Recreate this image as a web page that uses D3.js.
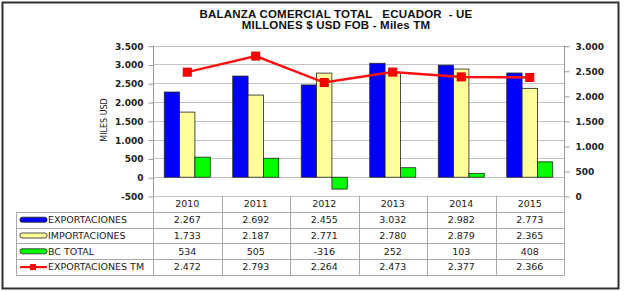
<!DOCTYPE html>
<html>
<head>
<meta charset="utf-8">
<script src="https://cdn.jsdelivr.net/npm/d3@7"></script>
<style>
  body { margin: 0; background: #fff; }
  svg { display: block; }
</style>
</head>
<body>
<div id="chart"></div>
<script>
// Data
var years = ["2010", "2011", "2012", "2013", "2014", "2015"];
var exportaciones = [2267, 2692, 2455, 3032, 2982, 2773];
var importaciones = [1733, 2187, 2771, 2780, 2879, 2365];
var bcTotal = [534, 505, -316, 252, 103, 408];
var exportacionesTM = [2472, 2793, 2264, 2473, 2377, 2366];
var leftTicks = [-500, 0, 500, 1000, 1500, 2000, 2500, 3000, 3500];
var rightTicks = [0, 500, 1000, 1500, 2000, 2500, 3000];

var barSeries = [
  { label: "EXPORTACIONES", values: exportaciones, color: "#0000ff" },
  { label: "IMPORTACIONES", values: importaciones, color: "#ffff99" },
  { label: "BC TOTAL", values: bcTotal, color: "#00ff00" }
];

var locale = d3.formatLocale({ decimal: ",", thousands: ".", grouping: [3], currency: ["$", ""], minus: "-" });
var fmt = locale.format(",d");

var W = 624, H = 291;
var svg = d3.select("#chart").append("svg").attr("width", W).attr("height", H);

// Chart frame
svg.append("rect")
  .attr("x", 2.5).attr("y", 2.5)
  .attr("width", 616).attr("height", 286)
  .attr("fill", "#fff")
  .attr("stroke", "#303030")
  .attr("stroke-width", 2);

// Title
var title = svg.append("text")
  .attr("text-anchor", "middle")
  .attr("font-family", "Liberation Sans, Arial, sans-serif")
  .attr("font-weight", "bold")
  .attr("font-size", "11.5px")
  .attr("letter-spacing", "0.2px")
  .attr("fill", "#111")
  .style("white-space", "pre");
title.append("tspan").attr("x", 336).attr("y", 18).text("BALANZA COMERCIAL TOTAL   ECUADOR  - UE");
title.append("tspan").attr("x", 336).attr("y", 29).text("MILLONES $ USD FOB - Miles TM");

// Plot area
var plotLeft = 153, plotRight = 564, plotTop = 45.7, plotBottom = 196;
var rowH = 15.8;
var tableLeft = 16;

var x = d3.scaleBand().domain(years).range([plotLeft, plotRight]).paddingInner(0).paddingOuter(0);
var x1 = d3.scaleBand().domain(barSeries.map(function (d) { return d.label; }))
  .range([0, x.bandwidth()]).paddingInner(0).paddingOuter(0.735);
var yL = d3.scaleLinear().domain([-500, 3500]).range([plotBottom, plotTop]);
var yR = d3.scaleLinear().domain([0, 3000]).range([plotBottom, plotTop]);

// Gridlines
svg.append("g")
  .selectAll("line")
  .data(leftTicks)
  .enter()
  .append("line")
  .attr("x1", plotLeft).attr("x2", plotRight)
  .attr("y1", function (d) { return Math.round(yL(d)) + 0.5; })
  .attr("y2", function (d) { return Math.round(yL(d)) + 0.5; })
  .attr("stroke", "#c4c4c4")
  .attr("stroke-width", 1);

// Left axis
var axisL = svg.append("g")
  .attr("transform", "translate(" + (plotLeft + 0.5) + ",0.5)")
  .call(d3.axisLeft(yL).tickValues(leftTicks).tickFormat(fmt).tickSize(5).tickPadding(5));
axisL.select(".domain").remove();
axisL.selectAll("line").attr("stroke", "#999");
axisL.selectAll("text")
  .attr("font-family", "DejaVu Sans, sans-serif")
  .attr("font-weight", "bold")
  .attr("font-size", "9px")
  .attr("fill", "#222");

// Right axis
var axisR = svg.append("g")
  .attr("transform", "translate(" + (plotRight + 0.5) + ",0.5)")
  .call(d3.axisRight(yR).tickValues(rightTicks).tickFormat(fmt).tickSize(5).tickPadding(6));
axisR.select(".domain").remove();
axisR.selectAll("line").attr("stroke", "#999");
axisR.selectAll("text")
  .attr("font-family", "DejaVu Sans, sans-serif")
  .attr("font-weight", "bold")
  .attr("font-size", "9px")
  .attr("fill", "#222");

// Y axis title
svg.append("text")
  .attr("transform", "translate(107,120) rotate(-90)")
  .attr("text-anchor", "middle")
  .attr("font-family", "DejaVu Sans, sans-serif")
  .attr("font-size", "8px")
  .attr("fill", "#222")
  .text("MILES USD");

// Bars
barSeries.forEach(function (s) {
  svg.append("g")
    .selectAll("rect")
    .data(s.values)
    .enter()
    .append("rect")
    .attr("x", function (d, i) { return x(years[i]) + x1(s.label); })
    .attr("width", x1.bandwidth())
    .attr("y", function (d) { return yL(Math.max(0, d)); })
    .attr("height", function (d) { return Math.abs(yL(d) - yL(0)); })
    .attr("fill", s.color)
    .attr("stroke", "#222")
    .attr("stroke-width", 0.8);
});

// Red line on the right axis
var line = d3.line()
  .x(function (d, i) { return x(years[i]) + x.bandwidth() / 2; })
  .y(function (d) { return yR(d); });

svg.append("path")
  .datum(exportacionesTM)
  .attr("d", line)
  .attr("fill", "none")
  .attr("stroke", "#ff1010")
  .attr("stroke-width", 2.5);

svg.append("g")
  .selectAll("rect")
  .data(exportacionesTM)
  .enter()
  .append("rect")
  .attr("x", function (d, i) { return x(years[i]) + x.bandwidth() / 2 - 4; })
  .attr("y", function (d) { return yR(d) - 4; })
  .attr("width", 8)
  .attr("height", 8)
  .attr("fill", "#ff0000")
  .attr("stroke", "#e00000")
  .attr("stroke-width", 1);

// Data table
var tableRows = barSeries.concat([{ label: "EXPORTACIONES TM", values: exportacionesTM, color: "#ff0000", isLine: true }]);
var tableTop = plotBottom + rowH;
var tableBottom = tableTop + rowH * tableRows.length;
var tbl = svg.append("g");

// horizontal lines
tbl.selectAll(".hline")
  .data(d3.range(tableRows.length + 1))
  .enter()
  .append("line")
  .attr("x1", tableLeft).attr("x2", plotRight)
  .attr("y1", function (i) { return Math.round(tableTop + i * rowH) + 0.5; })
  .attr("y2", function (i) { return Math.round(tableTop + i * rowH) + 0.5; })
  .attr("stroke", "#a8a8a8");

// vertical lines
var colEdges = years.map(function (y) { return x(y); }).concat([plotRight]);
tbl.selectAll(".vline")
  .data(colEdges)
  .enter()
  .append("line")
  .attr("x1", function (d) { return Math.round(d) + 0.5; })
  .attr("x2", function (d) { return Math.round(d) + 0.5; })
  .attr("y1", plotBottom)
  .attr("y2", Math.round(tableBottom) + 0.5)
  .attr("stroke", "#a8a8a8");
tbl.append("line")
  .attr("x1", tableLeft + 0.5).attr("x2", tableLeft + 0.5)
  .attr("y1", Math.round(tableTop) + 0.5).attr("y2", Math.round(tableBottom) + 0.5)
  .attr("stroke", "#a8a8a8");
tbl.append("line")
  .attr("x1", plotLeft + 0.5).attr("x2", plotLeft + 0.5)
  .attr("y1", plotTop).attr("y2", plotBottom)
  .attr("stroke", "#999");
tbl.append("line")
  .attr("x1", plotRight + 0.5).attr("x2", plotRight + 0.5)
  .attr("y1", plotTop).attr("y2", plotBottom)
  .attr("stroke", "#999");

// header years
tbl.selectAll(".year")
  .data(years)
  .enter()
  .append("text")
  .attr("x", function (d) { return x(d) + x.bandwidth() / 2; })
  .attr("y", plotBottom + rowH / 2)
  .attr("dy", "0.35em")
  .attr("text-anchor", "middle")
  .attr("font-family", "DejaVu Sans, sans-serif")
  .attr("font-size", "9.5px")
  .attr("fill", "#222")
  .text(function (d) { return d; });

var rows = tbl.selectAll(".row")
  .data(tableRows)
  .enter()
  .append("g")
  .attr("transform", function (d, i) { return "translate(0," + (tableTop + i * rowH + rowH / 2) + ")"; });

// legend keys
rows.filter(function (d) { return !d.isLine; })
  .append("rect")
  .attr("x", 20).attr("y", -2.5)
  .attr("width", 27).attr("height", 5)
  .attr("rx", 2)
  .attr("fill", function (d) { return d.color; })
  .attr("stroke", "#222")
  .attr("stroke-width", 0.8);

var lineRow = rows.filter(function (d) { return d.isLine; });
lineRow.append("line")
  .attr("x1", 20).attr("x2", 47)
  .attr("y1", 0).attr("y2", 0)
  .attr("stroke", "#ff1010")
  .attr("stroke-width", 2.2);
lineRow.append("rect")
  .attr("x", 30).attr("y", -3)
  .attr("width", 6).attr("height", 6)
  .attr("fill", "#ff0000");

rows.append("text")
  .attr("x", 48)
  .attr("dy", "0.35em")
  .attr("font-family", "DejaVu Sans, sans-serif")
  .attr("font-size", "9.5px")
  .attr("fill", "#222")
  .text(function (d) { return d.label; });

rows.each(function (s) {
  d3.select(this).selectAll(".val")
    .data(s.values)
    .enter()
    .append("text")
    .attr("x", function (d, i) { return x(years[i]) + x.bandwidth() / 2; })
    .attr("dy", "0.35em")
    .attr("text-anchor", "middle")
    .attr("font-family", "DejaVu Sans, sans-serif")
    .attr("font-size", "9.5px")
    .attr("fill", "#222")
    .text(function (d) { return fmt(d); });
});
</script>
</body>
</html>
